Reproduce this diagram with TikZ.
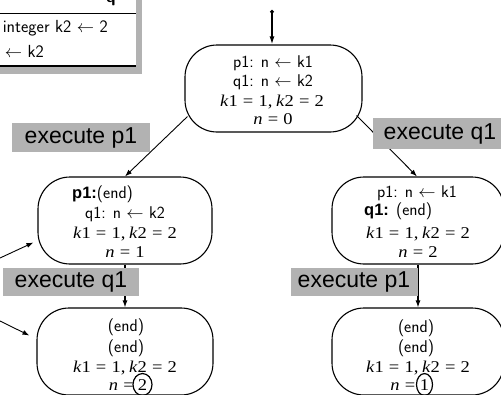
\documentclass[tikz,border=0pt]{standalone}
\usepackage{fontspec}
\usepackage{graphicx}
\newfontfamily\arialf{Liberation Sans}
\newfontfamily\tmsf{Liberation Serif}
\usetikzlibrary{arrows.meta,shapes.geometric}
\definecolor{lbl}{RGB}{178,178,178}
\newcommand{\bdf}{\arialf\bfseries\fontsize{16.5}{20}\selectfont}
\newcommand{\eqsp}{\hspace{0.28em}}
\newcommand{\mathtxt}[1]{\scalebox{1.12}[1]{\tmsf\fontsize{16.5}{19}\selectfont #1}}
\newcommand{\kline}{\mathtxt{\textit{k}1\eqsp=\eqsp1,\hspace{0.2em}\textit{k}2\eqsp=\eqsp2}}
\newcommand{\nline}[1]{\mathtxt{\textit{n}\eqsp=\eqsp#1}}
\tikzset{
  state/.style={draw, line width=1.1pt, rounded corners=32pt, minimum height=87pt, inner sep=0pt},
  lab/.style={fill=lbl, inner sep=0pt, text height=16pt, text depth=5pt, font=\arialf\fontsize{23}{25}\selectfont},
  sl/.style={font=\sffamily\fontsize{17}{20}\selectfont, inner sep=0pt, anchor=base},
  mth/.style={inner sep=0pt, anchor=base},
  bdw/.style={font=\sffamily\fontsize{17}{20}\selectfont, inner sep=0pt, anchor=base west},
  circ/.style={draw, ellipse, line width=1.2pt, inner sep=0pt, anchor=base},
  arr/.style={-{Latex[length=7pt,width=5pt]}, line width=0.9pt},
}
\begin{document}
\begin{tikzpicture}[x=1pt,y=-1pt]
\useasboundingbox (0,0) rectangle (501,394);
\begin{scope}
\clip (0,0) rectangle (501,394);
% top-left table fragment
\fill[lbl] (-14,-12) rectangle (142,74);
\fill[white] (-20,-20) rectangle (136,66);
\draw[line width=0.8pt] (-20,13) -- (136,13);
\draw[line width=1.2pt] (-20,66) -- (136,66);
\node[sl] (tq) at (111,2) {\bfseries q};
\node[sl, anchor=base east, font=\sffamily\fontsize{17.5}{20}\selectfont] (tr1) at (108,32) {integer k2 $\leftarrow$ 2};
\node[sl, anchor=base east, font=\sffamily\fontsize{17.5}{20}\selectfont] (tr2) at (44,57) {n $\leftarrow$ k2};

% states
\node[state, minimum width=177pt] (top) at (273.5,88.5) {};
\node[state, minimum width=174pt] (ml) at (125,220.5) {};
\node[state, minimum width=172pt] (mr) at (418,220.5) {};
\node[state, minimum width=176pt] (bl) at (125,351.5) {};
\node[state, minimum width=172pt] (br) at (418,351.5) {};

% top text
\node[sl] (t1) at (273,67) {p1: n $\leftarrow$ k1};
\node[sl] (t2) at (273,86) {q1: n $\leftarrow$ k2};
\node[mth] (t3) at (272,106) {\kline};
\node[mth] (t4) at (273,124) {\nline{0}};
% middle left
\node[bdw] (a1) at (72,198) {{\bdf p1:}(end)};
\node[sl] (a2) at (125,218) {q1: n $\leftarrow$ k2};
\node[mth] (a3) at (125,238) {\kline};
\node[mth] (a4) at (125,257) {\nline{1}};
% middle right
\node[sl] (b1) at (417,197) {p1: n $\leftarrow$ k1};
\node[bdw] (b2) at (364,215) {{\bdf q1:} (end)};
\node[mth] (b3) at (418,238) {\kline};
\node[mth] (b4) at (418,257) {\nline{2}};
% bottom left
\node[sl] (c1) at (126,331) {(end)};
\node[sl] (c2) at (126,352) {(end)};
\node[mth] (c3) at (125,372) {\kline};
\node[mth, anchor=base east] (c4) at (134,390) {\mathtxt{\textit{n}\eqsp=}};
\node[circ, minimum width=19pt, minimum height=22pt] (c5) at (142.5,390) {\mathtxt{2}};
% bottom right
\node[sl] (d1) at (416,332) {(end)};
\node[sl] (d2) at (416,352) {(end)};
\node[mth] (d3) at (418,372) {\kline};
\node[mth, anchor=base east] (d4) at (415.5,390) {\mathtxt{\textit{n}\eqsp=}};
\node[circ, minimum width=16pt, minimum height=22pt] (d5) at (424.5,390) {\mathtxt{1}};

% connectors
\coordinate (s0) at (272,10);
\draw[{Circle[length=3.5pt]}-{Latex[length=8pt,width=5pt]}, line width=1.4pt] (s0) -- (s0 |- top.north);
\draw[arr] ([shift={(3,-16)}]top.south west) -- (ml.north);
\draw[arr] ([shift={(-6,-17)}]top.south east) -- ([xshift=-1pt]mr.north);
\draw[arr, line width=1.2pt] (ml.south) -- (bl.north);
\draw[arr, line width=1.2pt] (mr.south) -- (br.north);
\coordinate (e1) at (0,258);
\coordinate (e2) at (0,321);
\draw[arr] (e1) -- ([shift={(-4,22)}]ml.west);
\draw[arr] (e2) -- ([shift={(-7,-16)}]bl.west);

% labels
\node[lab, minimum width=138pt, minimum height=29pt] (l1) at (81,137.5) {execute p1};
\node[lab, minimum width=134pt, minimum height=31pt] (l2) at (440,133.5) {execute q1};
\node[lab, minimum width=136pt, minimum height=28pt] (l3) at (71,282) {execute q1};
\node[lab, minimum width=127pt, minimum height=28pt] (l4) at (354,282) {execute p1};
\end{scope}
\end{tikzpicture}
\end{document}
